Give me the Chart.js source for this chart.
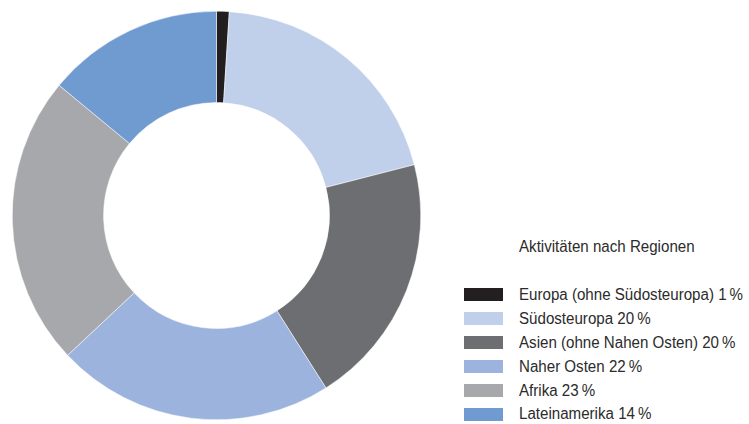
<!DOCTYPE html>
<html>
<head>
<meta charset="utf-8">
<script src="https://cdn.jsdelivr.net/npm/chart.js@4/dist/chart.umd.min.js"></script>
<style>
  html, body { margin: 0; padding: 0; background: #fff; }
  body { width: 749px; height: 424px; position: relative; overflow: hidden;
         font-family: "Liberation Sans", Arial, sans-serif; color: #2b2b2b; }
  #wrap { position: absolute; left: 12px; top: 11px; width: 409px; height: 409px; }
  .txt { display: inline-block; transform-origin: 0 50%; white-space: nowrap; }
  #title { position: absolute; left: 519px; top: 236px; font-size: 16px; line-height: 22px; white-space: nowrap; }
  #legend { position: absolute; left: 464px; top: 283px; margin: 0; padding: 0; list-style: none; }
  #legend li { height: 23.9px; display: flex; align-items: center; font-size: 16px; white-space: nowrap; }
  #legend span.box { display: inline-block; width: 39px; height: 13px; margin-right: 16px; flex: none; }
</style>
</head>
<body>
<div id="wrap"><canvas id="regionChart"></canvas></div>
<div id="title"><span class="txt">Aktivitäten nach Regionen</span></div>
<ul id="legend"></ul>
<script>
// Daten
const regionen = ['Europa (ohne Südosteuropa)', 'Südosteuropa', 'Asien (ohne Nahen Osten)', 'Naher Osten', 'Afrika', 'Lateinamerika'];
const anteile = [1, 20, 20, 22, 23, 14];
const farben = ['#231f20', '#c0cfea', '#6d6e72', '#9bb3dd', '#a7a8ab', '#6f9bd1'];

const ctx = document.getElementById('regionChart').getContext('2d');
const regionChart = new Chart(ctx, {
    type: 'doughnut',
    data: {
        labels: regionen,
        datasets: [{
            data: anteile,
            backgroundColor: farben,
            borderColor: '#ffffff',
            borderWidth: 0.5,
        }]
    },
    options: {
        responsive: true,
        maintainAspectRatio: false,
        animation: false,
        cutout: '55.3%',
        layout: { padding: 0 },
        plugins: {
            legend: { display: false },
            tooltip: { enabled: false },
        },
    },
});

// Legende
const legend = document.getElementById('legend');
const spans = [document.querySelector('#title .txt')];
regionen.forEach((name, i) => {
    const li = document.createElement('li');
    const box = document.createElement('span');
    box.className = 'box';
    box.style.background = farben[i];
    const t = document.createElement('span');
    t.className = 'txt';
    t.textContent = name + ' ' + anteile[i] + '\u2009%';
    li.appendChild(box);
    li.appendChild(t);
    legend.appendChild(li);
    spans.push(t);
});

// schmale Schrift nachbilden (Zeile 1 ist im Original ca. 224px breit)
const k = 224 / spans[1].getBoundingClientRect().width;
spans.forEach(s => { s.style.transform = 'scaleX(' + k + ')'; });
</script>
</body>
</html>
